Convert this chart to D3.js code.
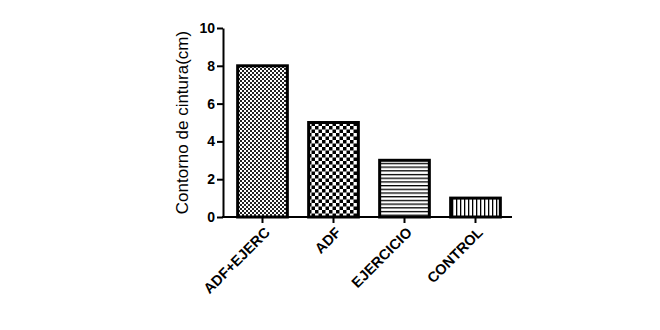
<!DOCTYPE html>
<html>
<head>
<meta charset="utf-8">
<script src="https://cdn.jsdelivr.net/npm/d3@7"></script>
<style>
  body { margin: 0; background: #fff; }
  svg { display: block; }
  .axis path, .axis line { stroke: #000; stroke-width: 2px; }
  .axis text { font-family: "Liberation Sans", Arial, sans-serif; font-weight: bold; font-size: 14px; fill: #000; }
</style>
</head>
<body>
<div id="chart"></div>
<script>
const categories = ['ADF+EJERC', 'ADF', 'EJERCICIO', 'CONTROL'];
const values = [8, 5, 3, 1];
const patterns = ['fineCheck', 'coarseCheck', 'hLines', 'vLines'];
const yTicks = [0, 2, 4, 6, 8, 10];

const WIDTH = 660;
const HEIGHT = 330;

const svg = d3.select('#chart')
  .append('svg')
  .attr('width', WIDTH)
  .attr('height', HEIGHT);

// Fill patterns for each bar
const defs = svg.append('defs');

const fine = defs.append('pattern').attr('id', 'fineCheck')
  .attr('patternUnits', 'userSpaceOnUse').attr('width', 4).attr('height', 4);
fine.append('rect').attr('width', 4).attr('height', 4).attr('fill', '#fff');
fine.append('rect').attr('width', 2).attr('height', 2).attr('fill', '#222');
fine.append('rect').attr('x', 2).attr('y', 2).attr('width', 2).attr('height', 2).attr('fill', '#222');

const coarse = defs.append('pattern').attr('id', 'coarseCheck')
  .attr('patternUnits', 'userSpaceOnUse').attr('width', 7).attr('height', 7);
coarse.append('rect').attr('width', 7).attr('height', 7).attr('fill', '#fff');
coarse.append('rect').attr('width', 3.5).attr('height', 3.5).attr('fill', '#000');
coarse.append('rect').attr('x', 3.5).attr('y', 3.5).attr('width', 3.5).attr('height', 3.5).attr('fill', '#000');

const hl = defs.append('pattern').attr('id', 'hLines')
  .attr('patternUnits', 'userSpaceOnUse').attr('width', 4).attr('height', 3.7);
hl.append('rect').attr('width', 4).attr('height', 3.7).attr('fill', '#fff');
hl.append('rect').attr('y', 0).attr('width', 4).attr('height', 1.3).attr('fill', '#000');

const vl = defs.append('pattern').attr('id', 'vLines')
  .attr('patternUnits', 'userSpaceOnUse').attr('width', 4).attr('height', 4);
vl.append('rect').attr('width', 4).attr('height', 4).attr('fill', '#fff');
vl.append('rect').attr('x', 0).attr('width', 1.3).attr('height', 4).attr('fill', '#000');

const x = d3.scaleBand()
  .domain(categories)
  .range([227, 511])
  .paddingInner(0.3)
  .paddingOuter(0.15);

const y = d3.scaleLinear()
  .domain([0, 10])
  .range([217, 28]);

// Bars
svg.append('g')
  .selectAll('rect')
  .data(categories)
  .enter()
  .append('rect')
  .attr('x', d => x(d))
  .attr('y', (d, i) => y(values[i]))
  .attr('width', x.bandwidth())
  .attr('height', (d, i) => y(0) - y(values[i]))
  .attr('fill', (d, i) => `url(#${patterns[i]})`)
  .attr('stroke', '#000')
  .attr('stroke-width', 3);

// Axes
svg.append('g')
  .attr('class', 'axis')
  .attr('transform', 'translate(223,0)')
  .call(d3.axisLeft(y).tickValues(yTicks).tickSize(6).tickSizeOuter(0).tickPadding(2));

svg.append('g')
  .attr('class', 'axis')
  .attr('transform', 'translate(0,217)')
  .call(d3.axisBottom(x).tickSize(6).tickSizeOuter(0))
  .call(g => g.select('.domain').attr('d', 'M222,0H512'))
  .selectAll('text')
  .style('font-size', '14.5px')
  .attr('text-anchor', 'end')
  .attr('dx', 0)
  .attr('dy', 0)
  .attr('transform', 'translate(2,10) rotate(-45)');

// Y title
svg.append('text')
  .attr('transform', `translate(188,${(y(0) + y(10)) / 2}) rotate(-90)`)
  .attr('text-anchor', 'middle')
  .style('font-family', '"Liberation Sans", Arial, sans-serif')
  .style('font-size', '17px')
  .text('Contorno de cintura(cm)');
</script>
</body>
</html>
